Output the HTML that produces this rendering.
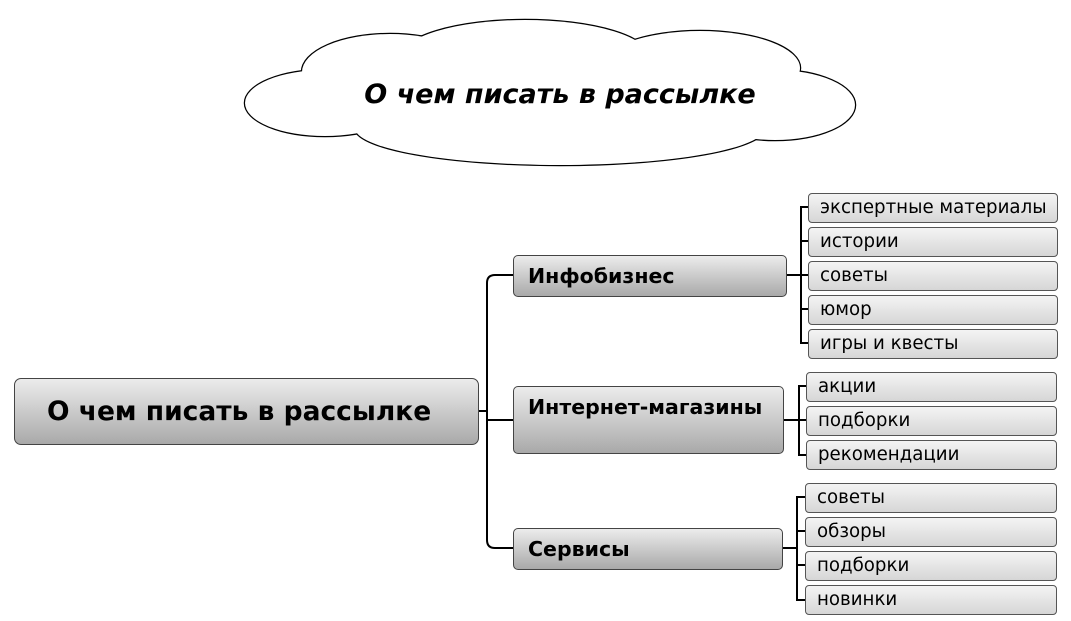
<!DOCTYPE html>
<html><head><meta charset="utf-8"><style>
body{margin:0;width:1071px;height:621px;background:#fff;position:relative;overflow:hidden;font-family:"DejaVu Sans","Liberation Sans",sans-serif}
.b{position:absolute;box-sizing:border-box;border:1px solid #555;border-radius:4px;background:linear-gradient(#f4f4f4,#d6d6d6);color:#000}
.m{position:absolute;box-sizing:border-box;border:1px solid #444;border-radius:5px;background:linear-gradient(#ececec,#a9a9a9);font-weight:bold;font-size:20.5px;padding-left:14px}
.l{font-size:18.2px;padding-left:11px;line-height:27px;height:30px;width:250px}
svg{position:absolute;left:0;top:0}
.ct{position:absolute;left:260px;width:600px;top:78px;text-align:center;font-weight:bold;font-style:italic;font-size:27px;line-height:34px}
</style></head><body>
<svg width="1071" height="621">
<g fill="#fff" stroke="#000" stroke-width="2.5">
<ellipse cx="325" cy="103" rx="80" ry="33"/>
<ellipse cx="390" cy="72" rx="88" ry="38"/>
<ellipse cx="525" cy="58" rx="125" ry="38"/>
<ellipse cx="700" cy="68" rx="100" ry="37"/>
<ellipse cx="775" cy="105" rx="80" ry="35"/>
<ellipse cx="560" cy="128" rx="205" ry="37"/>
</g>
<g fill="#fff">
<ellipse cx="325" cy="103" rx="80" ry="33"/>
<ellipse cx="390" cy="72" rx="88" ry="38"/>
<ellipse cx="525" cy="58" rx="125" ry="38"/>
<ellipse cx="700" cy="68" rx="100" ry="37"/>
<ellipse cx="775" cy="105" rx="80" ry="35"/>
<ellipse cx="560" cy="128" rx="205" ry="37"/>
<rect x="365" y="62" width="390" height="62"/>
</g>
<g fill="none" stroke="#000" stroke-width="2">
<path d="M478 411H487"/>
<path d="M513 275H495Q487 275 487 283V540Q487 548 495 548H513"/>
<path d="M487 420H513"/>
<path d="M787 275H801M808 207H801V343H808M801 241H808M801 275H808M801 309H808"/>
<path d="M784 420H799M806 386H799V455H806M799 420H806"/>
<path d="M783 548H797M805 497H797V600H805M797 531H805M797 565H805"/>
</g>
</svg>
<div class="ct">О чем писать в рассылке</div>
<div class="m" style="left:14px;top:378px;width:465px;height:67px;font-size:26.5px;line-height:65px;padding-left:32px;border-radius:7px">О чем писать в рассылке</div>
<div class="m" style="left:513px;top:255px;width:274px;height:42px;line-height:40px">Инфобизнес</div>
<div class="m" style="left:513px;top:386px;width:271px;height:68px;line-height:40px">Интернет-магазины</div>
<div class="m" style="left:513px;top:528px;width:270px;height:42px;line-height:40px">Сервисы</div>
<div class="b l" style="left:808px;top:193px">экспертные материалы</div>
<div class="b l" style="left:808px;top:227px">истории</div>
<div class="b l" style="left:808px;top:261px">советы</div>
<div class="b l" style="left:808px;top:295px">юмор</div>
<div class="b l" style="left:808px;top:329px">игры и квесты</div>
<div class="b l" style="left:806px;top:372px;width:251px">акции</div>
<div class="b l" style="left:806px;top:406px;width:251px">подборки</div>
<div class="b l" style="left:806px;top:440px;width:251px">рекомендации</div>
<div class="b l" style="left:805px;top:483px;width:252px">советы</div>
<div class="b l" style="left:805px;top:517px;width:252px">обзоры</div>
<div class="b l" style="left:805px;top:551px;width:252px">подборки</div>
<div class="b l" style="left:805px;top:585px;width:252px">новинки</div>
</body></html>
